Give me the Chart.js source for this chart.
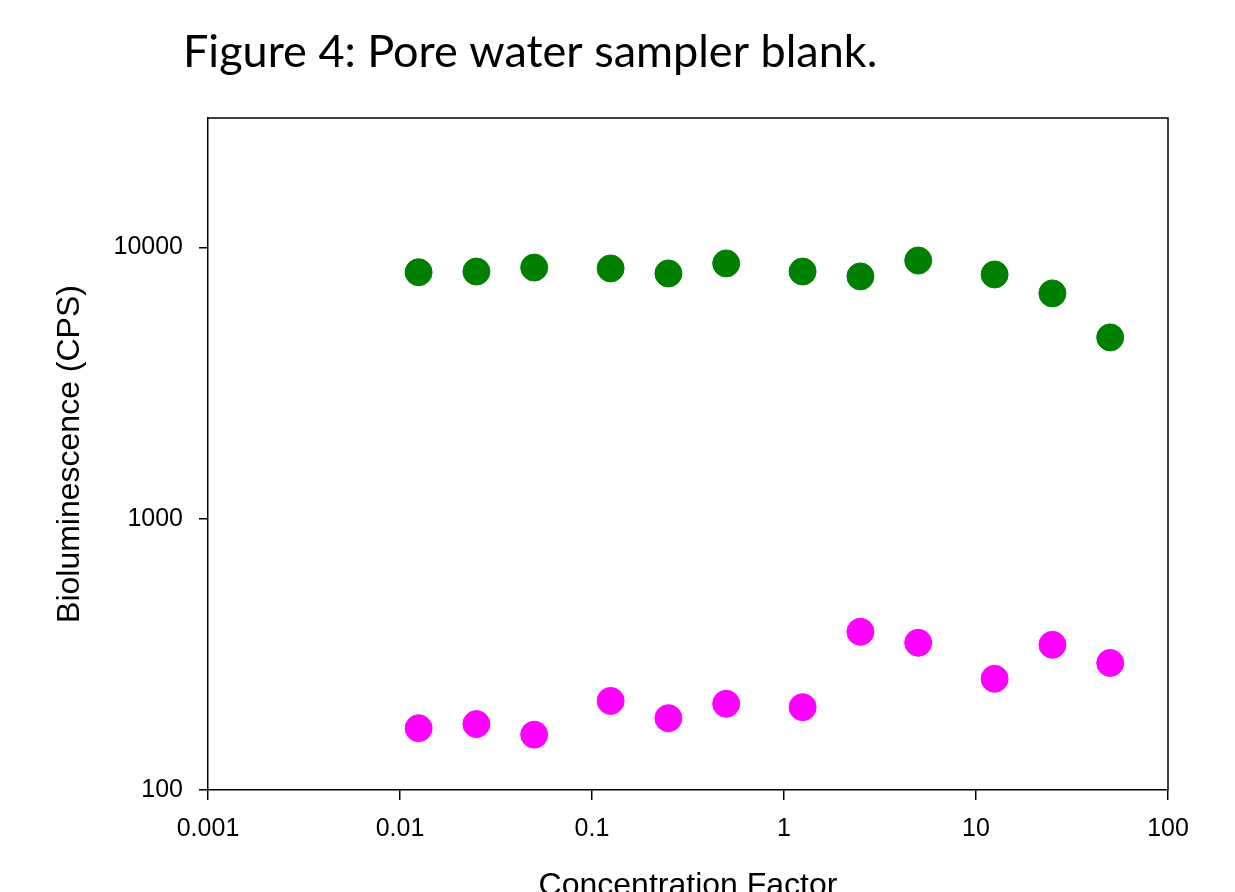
<!DOCTYPE html>
<html>
<head>
<meta charset="utf-8">
<script src="https://cdn.jsdelivr.net/npm/chart.js@4.4.0/dist/chart.umd.min.js"></script>
<style>
  html, body { margin: 0; padding: 0; background: #fff; overflow: hidden; }
  #chart { display: block; }
</style>
</head>
<body>
<canvas id="chart" width="1235" height="930"></canvas>
<script>
// Дані графіка
const chartTitle = 'Figure 4: Pore water sampler blank.';
const concentrationFactor = [0.0125, 0.025, 0.05, 0.125, 0.25, 0.5, 1.25, 2.5, 5, 12.5, 25, 50];
const greenSeries = [8100, 8150, 8430, 8370, 8020, 8730, 8150, 7820, 8950, 7950, 6770, 4660];
const magentaSeries = [169, 175, 160, 213, 184, 208, 202, 383, 349, 257, 343, 294];
const xTickValues = [0.001, 0.01, 0.1, 1, 10, 100];
const yTickValues = [100, 1000, 10000];

const toPoints = (ys) => concentrationFactor.map((x, i) => ({ x: x, y: ys[i] }));

// Заголовок і рамка навколо області графіка
const framePlugin = {
    id: 'frame',
    afterDraw(chart) {
        const { ctx, chartArea: a } = chart;
        ctx.save();
        ctx.strokeStyle = '#000';
        ctx.lineWidth = 1.5;
        ctx.beginPath();
        ctx.moveTo(a.left, a.top);
        ctx.lineTo(a.right, a.top);
        ctx.lineTo(a.right, a.bottom);
        ctx.stroke();

        ctx.fillStyle = '#000';
        ctx.font = '45px Lato';
        ctx.textAlign = 'left';
        ctx.textBaseline = 'alphabetic';
        ctx.fillText(chartTitle, 183, 67);
        ctx.restore();
    }
};

const axisFont = { family: '"Liberation Sans", Arial, sans-serif', size: 25 };
const titleFont = { family: '"Liberation Sans", Arial, sans-serif', size: 32 };

new Chart(document.getElementById('chart'), {
    type: 'scatter',
    data: {
        datasets: [{
            label: 'Blank',
            data: toPoints(greenSeries),
            backgroundColor: '#008000',
            borderColor: '#008000',
            pointRadius: 13.5,
            pointHoverRadius: 13.5
        }, {
            label: 'Sampler',
            data: toPoints(magentaSeries),
            backgroundColor: '#ff00ff',
            borderColor: '#ff00ff',
            pointRadius: 13.5,
            pointHoverRadius: 13.5
        }]
    },
    options: {
        responsive: false,
        animation: false,
        devicePixelRatio: 1,
        layout: { padding: { top: 118, right: 67, left: 0, bottom: 0 } },
        plugins: {
            legend: { display: false },
            tooltip: { enabled: false }
        },
        scales: {
            x: {
                type: 'logarithmic',
                min: 0.001,
                max: 100,
                afterFit: (scale) => { scale.height = 140; },
                afterBuildTicks: (scale) => { scale.ticks = xTickValues.map(v => ({ value: v })); },
                grid: { drawOnChartArea: false, drawTicks: true, tickLength: 10, color: '#000', lineWidth: 1.5 },
                border: { display: true, color: '#000', width: 1.5 },
                ticks: {
                    color: '#000', font: axisFont, padding: 14, autoSkip: false, maxRotation: 0,
                    callback: (v) => String(v)
                },
                title: {
                    display: true, text: 'Concentration Factor', color: '#000', font: titleFont,
                    padding: { top: 0, bottom: 25 }
                }
            },
            y: {
                type: 'logarithmic',
                min: 100,
                max: 30000,
                afterFit: (scale) => { scale.width = 208; },
                afterBuildTicks: (scale) => { scale.ticks = yTickValues.map(v => ({ value: v })); },
                grid: { drawOnChartArea: false, drawTicks: true, tickLength: 9, color: '#000', lineWidth: 1.5 },
                border: { display: true, color: '#000', width: 1.5 },
                ticks: {
                    color: '#000', font: axisFont, padding: 16, autoSkip: false,
                    callback: (v) => String(v)
                },
                title: {
                    display: true, text: 'Bioluminescence (CPS)', color: '#000', font: titleFont,
                    padding: { top: 51, bottom: 0 }
                }
            }
        }
    },
    plugins: [framePlugin]
});
</script>
</body>
</html>
